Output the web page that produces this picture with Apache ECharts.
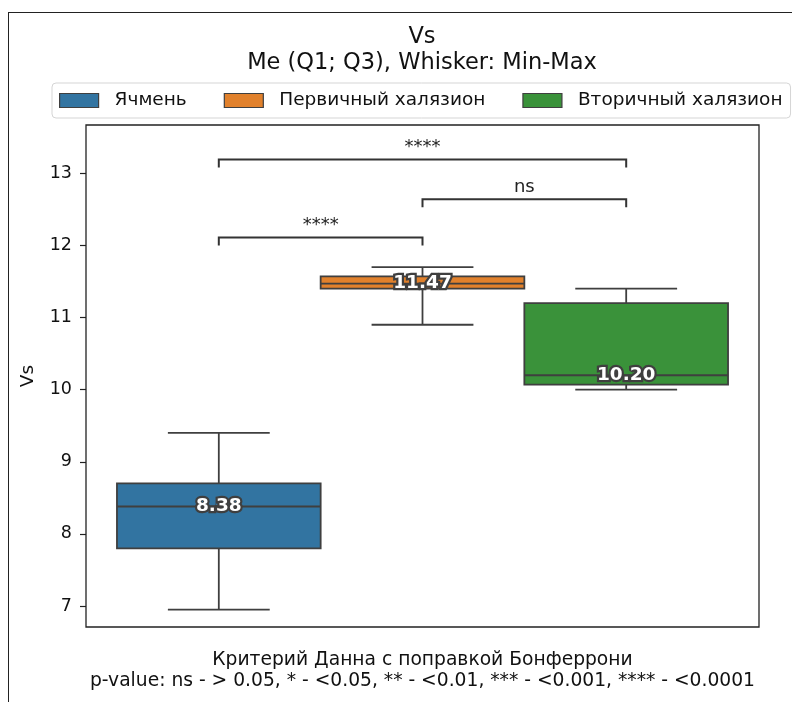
<!DOCTYPE html>
<html>
<head>
<meta charset="utf-8">
<script src="https://cdn.jsdelivr.net/npm/echarts@6/dist/echarts.min.js"></script>
<style>
html, body { margin: 0; padding: 0; background: #fff; overflow: hidden; }
#chart { position: absolute; left: 0; top: 0; width: 792px; height: 702px; }
#frame { position: absolute; left: 8px; top: 12px; width: 784px; height: 690px; border-left: 1.5px solid #222; border-top: 1.5px solid #222; pointer-events: none; }
</style>
</head>
<body>
<div id="chart"></div>
<div id="frame"></div>
<script>
// Vs: Me (Q1; Q3), усы min-max
var groups = ['Ячмень', 'Первичный халязион', 'Вторичный халязион'];
var mins = [6.95, 10.9, 10.0];
var q1s = [7.8, 11.4, 10.07];
var medians = [8.38, 11.47, 10.2];
var q3s = [8.7, 11.57, 11.2];
var maxs = [9.4, 11.7, 11.4];
var yTicks = [7, 8, 9, 10, 11, 12, 13];

// попарные сравнения (Данн, Бонферрони)
var pairFrom = [0, 1, 0];
var pairTo = [1, 2, 2];
var pairLabels = ['****', 'ns', '****'];
var bracketTop = [12.11, 12.64, 13.19];
var bracketLeg = [12.0, 12.53, 13.08];

var colors = ['#3274a1', '#e1812c', '#3a923a'];
var lineColor = '#3f3f3f';
var font = 'DejaVu Sans';

var dom = document.getElementById('chart');
var myChart = echarts.init(dom, null, { renderer: 'canvas' });

function renderBox(params, api) {
  var x = api.value(0);
  var pMin = api.coord([x, api.value(1)]);
  var pQ1 = api.coord([x, api.value(2)]);
  var pMed = api.coord([x, api.value(3)]);
  var pQ3 = api.coord([x, api.value(4)]);
  var pMax = api.coord([x, api.value(5)]);
  var w = api.size([1, 0])[0];
  var half = w / 2;
  var cap = w / 4;
  var cx = pMed[0];
  var edge = { stroke: lineColor, lineWidth: 1.8 };
  return {
    type: 'group',
    children: [
      { type: 'line', shape: { x1: cx, y1: pMin[1], x2: cx, y2: pQ1[1] }, style: edge },
      { type: 'line', shape: { x1: cx, y1: pQ3[1], x2: cx, y2: pMax[1] }, style: edge },
      { type: 'line', shape: { x1: cx - cap, y1: pMin[1], x2: cx + cap, y2: pMin[1] }, style: edge },
      { type: 'line', shape: { x1: cx - cap, y1: pMax[1], x2: cx + cap, y2: pMax[1] }, style: edge },
      { type: 'rect', shape: { x: cx - half, y: pQ3[1], width: w, height: pQ1[1] - pQ3[1] },
        style: { fill: api.visual('color'), stroke: lineColor, lineWidth: 1.8 } },
      { type: 'line', shape: { x1: cx - half, y1: pMed[1], x2: cx + half, y2: pMed[1] }, style: edge },
      { type: 'text', x: cx, y: pMed[1], z2: 10,
        style: { text: api.value(3).toFixed(2), align: 'center', verticalAlign: 'middle',
          fill: '#fff', stroke: lineColor, lineWidth: 4.5,
          fontSize: 18.5, fontWeight: 'bold', fontFamily: font } }
    ]
  };
}

function renderBracket(params, api) {
  var a = api.coord([api.value(0), api.value(3)]);
  var b = api.coord([api.value(0), api.value(2)]);
  var c = api.coord([api.value(1), api.value(2)]);
  var d = api.coord([api.value(1), api.value(3)]);
  return {
    type: 'group',
    children: [
      { type: 'polyline', shape: { points: [a, b, c, d] },
        style: { stroke: '#333', lineWidth: 2, fill: null } },
      { type: 'text', x: (b[0] + c[0]) / 2, y: b[1] - 3,
        style: { text: pairLabels[params.dataIndex], align: 'center', verticalAlign: 'bottom',
          fill: '#222', fontSize: 18, fontFamily: font } }
    ]
  };
}

var boxSeries = groups.map(function (name, i) {
  return {
    name: name,
    type: 'custom',
    xAxisIndex: 1,
    yAxisIndex: 0,
    itemStyle: { color: colors[i] },
    encode: { x: 0, y: [1, 2, 3, 4, 5] },
    data: [[i, mins[i], q1s[i], medians[i], q3s[i], maxs[i]]],
    renderItem: renderBox
  };
});

var bracketData = pairLabels.map(function (lab, k) {
  return [pairFrom[k], pairTo[k], bracketTop[k], bracketLeg[k]];
});

var option = {
  backgroundColor: '#fff',
  textStyle: { fontFamily: font },
  animation: false,
  title: {
    text: 'Vs\nMe (Q1; Q3), Whisker: Min-Max',
    left: 417,
    top: 19,
    textAlign: 'center',
    textStyle: { fontSize: 22.5, fontWeight: 'normal', color: '#111', lineHeight: 26, fontFamily: font }
  },
  legend: {
    data: groups,
    left: 52,
    top: 83,
    padding: [8, 8, 8, 7],
    icon: 'rect',
    itemWidth: 39,
    itemHeight: 14,
    itemGap: 37,
    borderColor: '#d5d5d5',
    borderWidth: 1,
    borderRadius: 4,
    itemStyle: { borderColor: lineColor, borderWidth: 1.2 },
    textStyle: { fontSize: 18.5, color: '#111', fontFamily: font, padding: [0, 0, 0, 11] }
  },
  grid: {
    left: 86,
    right: 33,
    top: 125,
    bottom: 75,
    show: true,
    borderColor: '#222',
    borderWidth: 1.3
  },
  xAxis: [
    {
      type: 'category',
      data: [''],
      axisLine: { show: false },
      axisTick: { alignWithLabel: true, length: 6, lineStyle: { color: '#222', width: 1.2 } },
      axisLabel: { show: false },
      name: 'Критерий Данна с поправкой Бонферрони\np-value: ns - > 0.05, * - <0.05, ** - <0.01, *** - <0.001, **** - <0.0001',
      nameLocation: 'middle',
      nameGap: 23,
      nameTextStyle: { fontSize: 18.7, color: '#111', lineHeight: 21, fontFamily: font }
    },
    {
      type: 'value',
      min: -0.652,
      max: 2.652,
      show: false,
      position: 'top'
    }
  ],
  yAxis: {
    type: 'value',
    min: 6.709,
    max: 13.67,
    splitLine: { show: false },
    axisLine: { show: false, onZero: false },
    axisTick: { show: true, length: 6, customValues: yTicks, lineStyle: { color: '#222', width: 1.2 } },
    axisLabel: { fontSize: 17.5, color: '#111', margin: 14, customValues: yTicks, fontFamily: font },
    name: 'Vs',
    nameLocation: 'middle',
    nameGap: 48,
    nameTextStyle: { fontSize: 18.5, color: '#111', fontFamily: font }
  },
  series: boxSeries.concat([
    {
      name: 'brackets',
      type: 'custom',
      xAxisIndex: 1,
      yAxisIndex: 0,
      encode: { x: [0, 1], y: [2, 3] },
      data: bracketData,
      renderItem: renderBracket
    }
  ])
};

if (option && typeof option === 'object') {
  myChart.setOption(option);
}

window.addEventListener('resize', myChart.resize);
</script>
</body>
</html>
